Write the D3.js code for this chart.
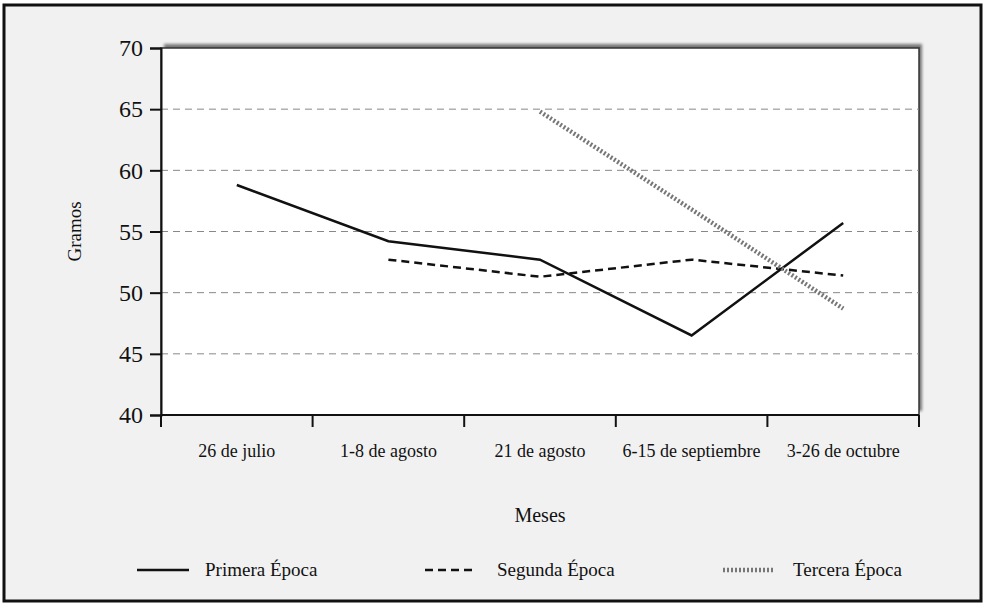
<!DOCTYPE html>
<style>
    body { margin: 0; background: #fff; }
    text {
        font-family: "Liberation Serif", "Times New Roman", Times, "Nimbus Roman", "DejaVu Serif", serif;
        fill: #111;
    }
    .grid line { stroke: #888; stroke-dasharray: 7,5; stroke-width: 1; }
</style>
<body>
<script src="https://cdn.jsdelivr.net/npm/d3@7"></script>
<script>
// data
var meses = ["26 de julio", "1-8 de agosto", "21 de agosto", "6-15 de septiembre", "3-26 de octubre"];
var primera = [58.8, 54.2, 52.7, 46.5, 55.7];
var segunda = [null, 52.7, 51.3, 52.7, 51.4];
var tercera = [null, null, 64.8, 56.8, 48.7];
var yTicks = [40, 45, 50, 55, 60, 65, 70];
var series = [
    {name: "Primera Época", values: primera, cls: "s1"},
    {name: "Segunda Época", values: segunda, cls: "s2"},
    {name: "Tercera Época", values: tercera, cls: "s3"}
];

var serif = '"Liberation Serif", "Times New Roman", Times, "Nimbus Roman", "DejaVu Serif", serif';

var W = 986, H = 606;
var margin = {top: 48, right: 67, bottom: 191, left: 161};
var width = W - margin.left - margin.right;
var height = H - margin.top - margin.bottom;

var svg = d3.select("body").append("svg")
    .attr("width", W)
    .attr("height", H);

var defs = svg.append("defs");
defs.append("filter").attr("id", "blur")
    .append("feGaussianBlur").attr("stdDeviation", 1.5);

// page background and frame
svg.append("rect")
    .attr("x", 4).attr("y", 5).attr("width", 977).attr("height", 596)
    .attr("fill", "#f1f1f1")
    .attr("stroke", "#111").attr("stroke-width", 3);

var g = svg.append("g")
    .attr("transform", "translate(" + margin.left + "," + margin.top + ")");

var x = d3.scaleBand().domain(meses).range([0, width]);
var y = d3.scaleLinear().domain([40, 70]).range([height, 0]);

// shadow of the plot box
g.append("rect")
    .attr("x", 3).attr("y", -4).attr("width", width).attr("height", height)
    .attr("fill", "#777").attr("filter", "url(#blur)");

g.append("rect")
    .attr("width", width).attr("height", height)
    .attr("fill", "#fff")
    .attr("stroke", "#333").attr("stroke-width", 1.5);

// dashed grid
g.append("g").attr("class", "grid")
    .selectAll("line").data(yTicks.filter(function(d) { return d > 40 && d < 70; }))
    .enter().append("line")
    .attr("x1", 0).attr("x2", width)
    .attr("y1", function(d) { return y(d); })
    .attr("y2", function(d) { return y(d); });

// y axis
var yAxis = g.append("g")
    .call(d3.axisLeft(y).tickValues(yTicks).tickSize(11).tickPadding(7).tickFormat(d3.format("d")));
yAxis.attr("font-family", null);
yAxis.select(".domain").attr("stroke", "#111").attr("stroke-width", 2);
yAxis.selectAll(".tick line").attr("stroke", "#111").attr("stroke-width", 2);
yAxis.selectAll("text")
    .style("font-family", serif)
    .style("font-size", "24px").attr("fill", "#111");

// x axis: ticks on band boundaries, labels in the middle
var bounds = meses.map(function(m) { return x(m); }).concat([width]);
var xAxis = g.append("g").attr("transform", "translate(0," + height + ")");
xAxis.append("line")
    .attr("x1", 0).attr("x2", width)
    .attr("stroke", "#111").attr("stroke-width", 2);
xAxis.selectAll(".xt").data(bounds).enter().append("line")
    .attr("x1", function(d) { return d; }).attr("x2", function(d) { return d; })
    .attr("y1", 0).attr("y2", 12)
    .attr("stroke", "#111").attr("stroke-width", 2);
xAxis.selectAll(".xl").data(meses).enter().append("text")
    .attr("x", function(d) { return x(d) + x.bandwidth() / 2; })
    .attr("y", 42)
    .attr("text-anchor", "middle")
    .style("font-family", serif)
    .style("font-size", "18px")
    .text(function(d) { return d; });

// lines
var line = d3.line()
    .defined(function(d) { return d != null; })
    .x(function(d, i) { return x(meses[i]) + x.bandwidth() / 2; })
    .y(function(d) { return y(d); });

function styleSeries(sel, cls) {
    if (cls === "s1") sel.attr("stroke", "#111").attr("stroke-width", 2.5);
    if (cls === "s2") sel.attr("stroke", "#111").attr("stroke-width", 2.5).attr("stroke-dasharray", "8,5");
    if (cls === "s3") sel.attr("stroke", "#777").attr("stroke-width", 4.5).attr("stroke-dasharray", "2,2");
}

series.forEach(function(s) {
    g.append("path")
        .datum(s.values)
        .attr("fill", "none")
        .attr("d", line)
        .call(styleSeries, s.cls);
});

// axis titles
svg.append("text")
    .attr("transform", "translate(81," + (margin.top + height / 2) + ") rotate(-90)")
    .attr("text-anchor", "middle")
    .style("font-family", serif)
    .style("font-size", "19px")
    .text("Gramos");

svg.append("text")
    .attr("x", margin.left + width / 2)
    .attr("y", 522)
    .attr("text-anchor", "middle")
    .style("font-family", serif)
    .style("font-size", "20px")
    .text("Meses");

// legend
var legX = [137, 425, 723];
var leg = svg.selectAll(".leg").data(series).enter().append("g")
    .attr("transform", function(d, i) { return "translate(" + legX[i] + ",570)"; });
leg.append("line")
    .attr("x1", 0).attr("x2", 52)
    .each(function(d) { d3.select(this).call(styleSeries, d.cls); });
leg.append("text")
    .attr("x", function(d, i) { return [68, 72, 70][i]; })
    .attr("y", 6)
    .style("font-family", serif)
    .style("font-size", "19px")
    .text(function(d) { return d.name; });
</script>
